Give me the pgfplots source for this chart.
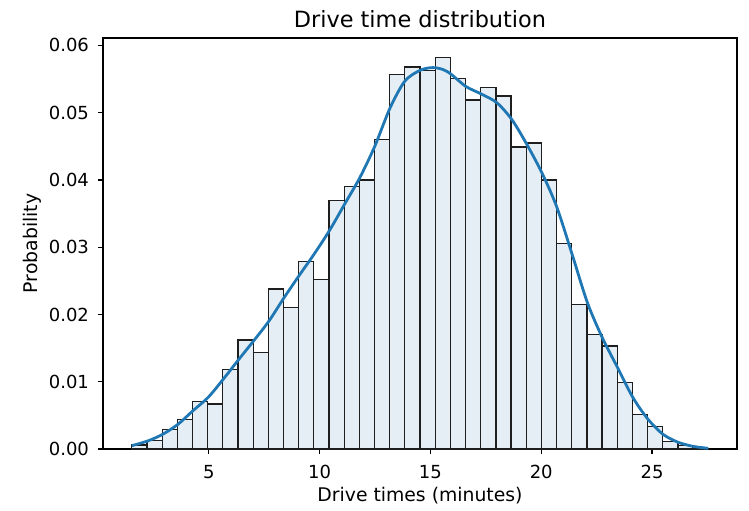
\documentclass[border=0pt]{standalone}
\usepackage{fontspec}
\setmainfont{DejaVu Sans}
\usepackage{pgfplots}
\pgfplotsset{compat=1.18}
\definecolor{barfill}{RGB}{229,238,245}
\definecolor{kde}{HTML}{1F77B4}
\definecolor{edge}{RGB}{30,30,30}
\begin{document}
\begin{tikzpicture}
\begin{axis}[
  scale only axis, width=317pt, height=205.5pt,
  at={(0,0)}, anchor=south west,
  xmin=0.228, xmax=28.835, ymin=0, ymax=0.0611,
  axis line style={black, line width=0.6pt},
  tick align=outside, major tick length=2.5pt,
  tick style={black, line width=0.6pt},
  xtick pos=lower, ytick pos=left,
  xtick={5,10,15,20,25},
  ytick={0,0.01,0.02,0.03,0.04,0.05,0.06},
  scaled y ticks=false,
  /pgf/number format/assume math mode=true,
  yticklabel style={/pgf/number format/fixed, /pgf/number format/fixed zerofill, /pgf/number format/precision=2, xshift=-1pt},
  tick label style={font=\fontsize{9}{11}\selectfont},
  xticklabel style={yshift=-2pt},
  title={Drive time distribution},
  every axis title/.style={at={(axis description cs:0.5,1)}, yshift=9.5pt, anchor=center, font=\fontsize{11.2}{13}\selectfont},
  xlabel={Drive times (minutes)},
  ylabel={Probability},
  every axis x label/.style={at={(axis description cs:0.5,0)}, yshift=-23.5pt, anchor=center, font=\fontsize{9.4}{11}\selectfont},
  every axis y label/.style={at={(axis description cs:0,0.5)}, xshift=-35.5pt, rotate=90, anchor=center, font=\fontsize{9.4}{11}\selectfont},
]
\addplot[ybar interval, fill=barfill, draw=edge, line width=0.65pt] coordinates {
(1.528,0.0006) (2.212,0.0013) (2.897,0.0029) (3.581,0.0044) (4.266,0.0071)
(4.950,0.0067) (5.634,0.0118) (6.319,0.0162) (7.003,0.0143) (7.688,0.0238)
(8.372,0.0210) (9.056,0.0279) (9.741,0.0252) (10.425,0.0369) (11.110,0.0390)
(11.794,0.0400) (12.478,0.0460) (13.163,0.0557) (13.847,0.0568) (14.532,0.0563)
(15.216,0.0582) (15.900,0.0551) (16.585,0.0519) (17.269,0.0537) (17.954,0.0525)
(18.638,0.0449) (19.322,0.0455) (20.007,0.0400) (20.691,0.0306) (21.376,0.0215)
(22.060,0.0170) (22.744,0.0153) (23.429,0.0099) (24.113,0.0051) (24.798,0.0033)
(25.482,0.0011) (26.166,0.0005) (26.851,0.0001) (27.535,0.0001)
};
\addplot[kde, line width=1.4pt, smooth, no marks] coordinates {
(1.528,0.0005) (2.25,0.0012) (2.93,0.0022) (3.62,0.0037) (4.29,0.0057)
(4.98,0.0077) (5.66,0.0104) (6.35,0.0133) (7.03,0.0161) (7.71,0.0190)
(8.40,0.0225) (9.08,0.0258) (9.76,0.0290) (10.45,0.0325) (11.13,0.0364)
(11.81,0.0403) (12.49,0.0450) (13.18,0.0507) (13.85,0.0547) (14.54,0.0563)
(15.10,0.0567) (15.58,0.0564) (15.94,0.0557) (16.60,0.0539) (17.28,0.0528)
(17.99,0.0515) (18.67,0.0490) (19.35,0.0453) (20.04,0.0410) (20.70,0.0360)
(21.39,0.0290) (22.08,0.0218) (22.75,0.0166) (23.43,0.0122) (24.13,0.0077)
(24.80,0.0045) (25.49,0.0022) (26.18,0.0010) (26.85,0.0004) (27.535,0.0001)
};
\end{axis}
\pgfresetboundingbox
\path[use as bounding box] (-51.5pt,-30.5pt) rectangle (323pt,224.5pt);
\end{tikzpicture}
\end{document}
